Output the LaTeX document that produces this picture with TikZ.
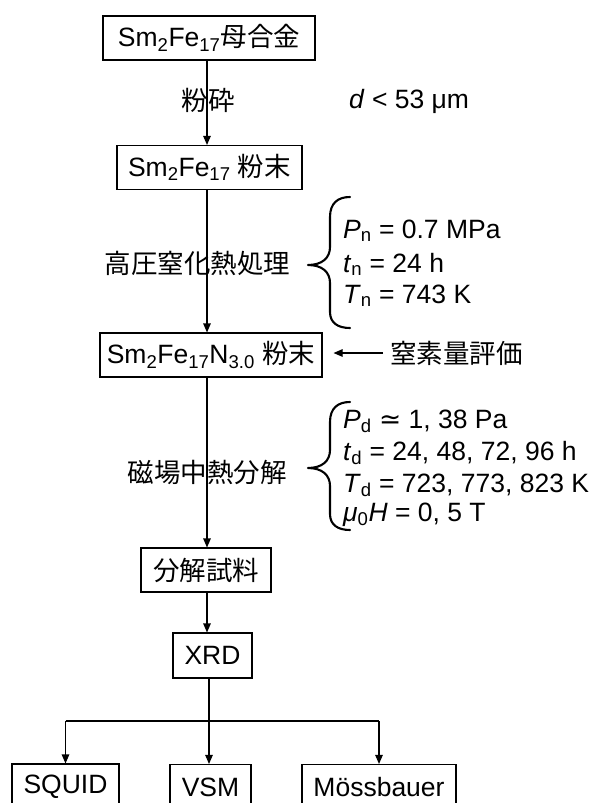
\documentclass[tikz,border=0pt]{standalone}
\usepackage{fontspec}
\setmainfont{Liberation Sans}
\newfontfamily\jpfont{Noto Sans CJK JP}
\newfontfamily\symfont{DejaVu Sans}
\usetikzlibrary{arrows.meta}

\tikzset{
  box/.style={draw, line width=1.1pt, minimum height=44pt, inner sep=0pt},
  flow/.style={line width=1.1pt, -{Triangle[length=9pt,width=7.5pt]}},
  lbl/.style={inner sep=0pt},
  param/.style={inner sep=0pt, anchor=base west},
  curly/.style={line width=2.1pt, line cap=round, line join=round}
}

\begin{document}
\begin{tikzpicture}[x=1pt, y=-1pt, font=\fontsize{26.5}{32}\selectfont]
    \useasboundingbox (0,0) rectangle (597,803);
    \coordinate (col) at (207,0);
    \node[box, minimum width=212pt] (alloy) at (209,38) {Sm\textsubscript{2}Fe\textsubscript{17}{\jpfont 母合金}};
    \node[box, minimum width=185pt] (powder) at (209.5,167.5) {Sm\textsubscript{2}Fe\textsubscript{17} {\jpfont 粉末}};
    \node[box, minimum width=222pt] (nitride) at (211,355) {Sm\textsubscript{2}Fe\textsubscript{17}N\textsubscript{3.0} {\jpfont 粉末}};
    \node[box, minimum width=130pt] (sample) at (206,570) {\jpfont 分解試料};
    \node[box, minimum width=79pt, minimum height=45pt] (xrd) at (212.5,655.5) {XRD};
    \node[box, minimum width=107pt, minimum height=45pt] (squid) at (65.5,786.5) {SQUID};
    \node[box, minimum width=81pt, minimum height=45pt] (vsm) at (210.5,787) {VSM};
    \node[box, minimum width=154pt, minimum height=45pt] (moss) at (379,787) {Mössbauer};

    \node[lbl] (crush) at (208,100) {\jpfont 粉砕};
    \node[param] (size) at (349,108) {\textit{d} < 53 μm};
    \node[lbl] (nitriding) at (197.5,263) {\jpfont 高圧窒化熱処理};
    \node[lbl] (decomp) at (207,472) {\jpfont 磁場中熱分解};
    \node[lbl, anchor=west] (nitro) at (390,353) {\jpfont 窒素量評価};

    \node[param] (pn) at (343,238) {\textit{P}\textsubscript{n} = 0.7 MPa};
    \node[param] (tn) at (343,272) {\textit{t}\textsubscript{n} = 24 h};
    \node[param] (Tn) at (343,303) {\textit{T}\textsubscript{n} = 743 K};
    \node[param] (pd) at (343,428) {\textit{P}\textsubscript{d} {\symfont ≃} 1, 38 Pa};
    \node[param] (td) at (343,460) {\textit{t}\textsubscript{d} = 24, 48, 72, 96 h};
    \node[param] (Td) at (343,492) {\textit{T}\textsubscript{d} = 723, 773, 823 K};
    \node[param] (mh) at (343,521) {\textit{μ}\textsubscript{0}\textit{H} = 0, 5 T};

    \draw[curly] (350,197) .. controls (338,197) and (330,203) .. (330,217) -- (330,247) .. controls (330,258) and (322,265) .. (308,265) .. controls (322,265) and (330,272) .. (330,283) -- (330,312) .. controls (330,323) and (338,328) .. (350,328);
    \draw[curly] (350,402) .. controls (338,402) and (330,408) .. (330,422) -- (330,450) .. controls (330,461) and (322,468) .. (308,468) .. controls (322,468) and (330,475) .. (330,486) -- (330,514) .. controls (330,525) and (338,530) .. (350,530);

    \draw[flow] (col |- alloy.south) -- (col |- powder.north);
    \draw[flow] (col |- powder.south) -- (col |- nitride.north);
    \draw[flow] (col |- nitride.south) -- (col |- sample.north);
    \draw[flow] (col |- sample.south) -- (col |- xrd.north);
    \draw[flow, shorten <=7pt, shorten >=11pt] (nitro.west) -- (nitride.east |- nitro.west);

    \coordinate (br) at (209,721);
    \draw[line width=1.1pt] (squid.north |- br) -- (moss.north |- br);
    \draw[flow] (br |- xrd.south) -- (br |- vsm.north);
    \draw[flow] (squid.north |- br) -- (squid.north);
    \draw[flow] (moss.north |- br) -- (moss.north);
\end{tikzpicture}
\end{document}
